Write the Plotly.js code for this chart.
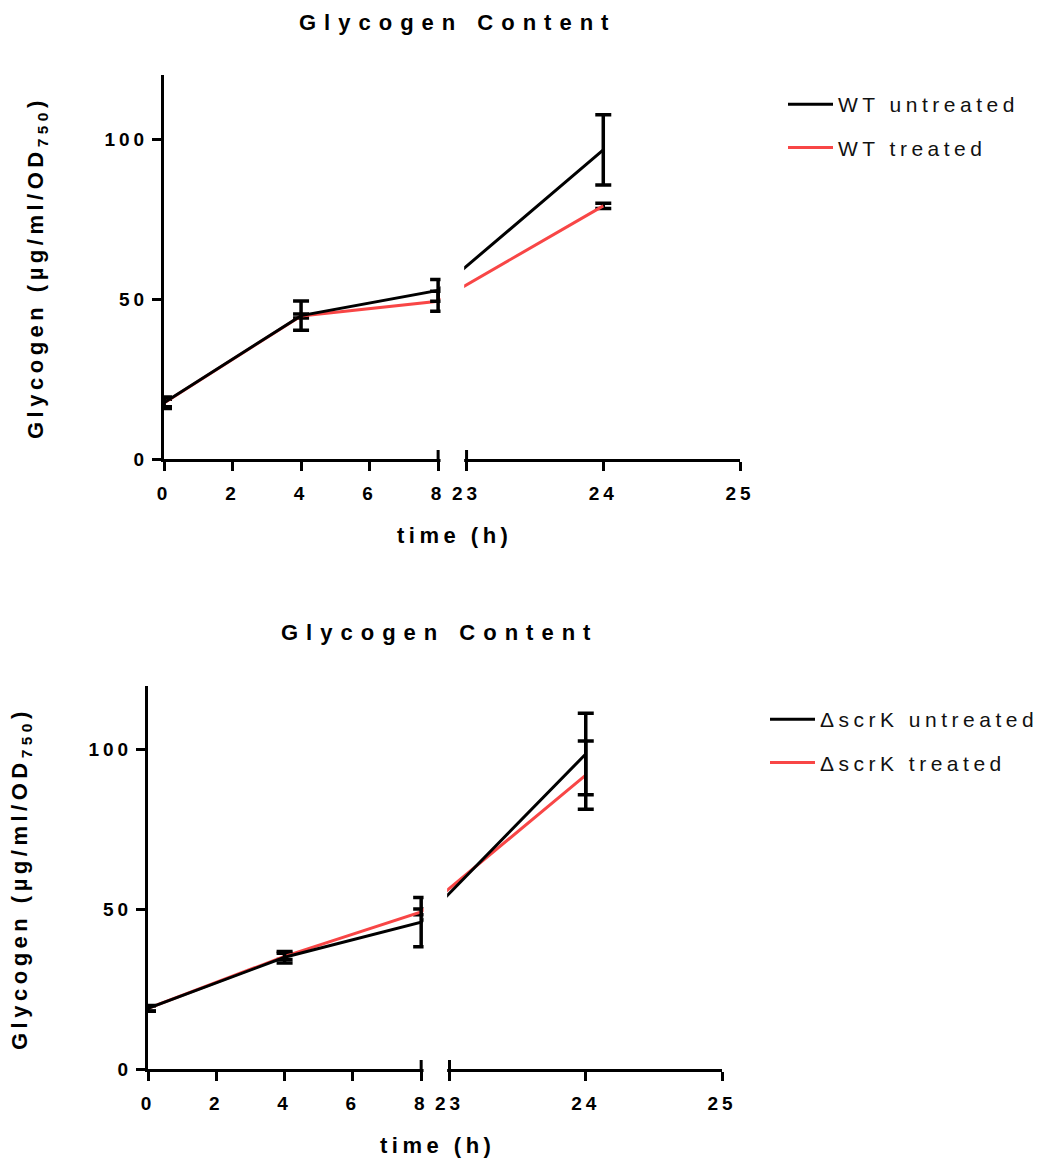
<!DOCTYPE html>
<html>
<head>
<meta charset="utf-8">
<script src="https://cdn.plot.ly/plotly-3.0.1.min.js"></script>
<style>
html, body { margin: 0; padding: 0; background: #ffffff; }
#chart { width: 1049px; height: 1159px; }
text { letter-spacing: 4.5px; }
.xtick text, .x2tick text, .ytick text, .y2tick text { letter-spacing: 4px; }
.annotation text { letter-spacing: 4.5px; }
.annotation[data-index="0"] text, .annotation[data-index="3"] text { letter-spacing: 8px; }
</style>
</head>
<body>
<div id="chart"></div>
<script>
// ---------------- data ----------------
const timeH = [0, 4, 8, 24];

const wtNames = ['WT untreated', 'WT treated'];
const wtUntreated    = [17.6, 44.8, 52.7, 96.6];
const wtUntreatedErr = [1.8, 4.6, 3.4, 11.0];
const wtTreated      = [17.5, 44.7, 49.3, 79.1];
const wtTreatedErr   = [1.2, 0.6, 3.1, 0.8];

const scrkNames = ['\u0394scrK untreated', '\u0394scrK treated'];
const scrkUntreated    = [19.0, 35.0, 46.0, 98.7];
const scrkUntreatedErr = [0.9, 1.8, 7.7, 12.8];
const scrkTreated      = [19.0, 35.3, 49.2, 92.1];
const scrkTreatedErr   = [0.8, 1.0, 0.9, 10.7];

const xTickVals = [0, 2, 4, 6, 8, 23, 24, 25];
const xTickText = ['0', '2', '4', '6', '8', '23', '24', '25'];
const yTickVals = [0, 50, 100];
const yTickText = ['0', '50', '100'];

const chartTitle = 'Glycogen Content';
const yTitle = 'Glycogen (\u00b5g/ml/OD<sub>750</sub>)';
const xTitle = 'time (h)';

// ---------------- broken x scale (0–8 | 23–25) ----------------
const SEG1_END = 8, SEG2_START = 23, SEG2_END = 25;
const GAP = 0.83;          // width of the break, in first-segment hours
const SEG2_STRETCH = 3.99; // second segment is drawn wider
function brokenX(t) {
  return t <= SEG1_END ? t : SEG1_END + GAP + (t - SEG2_START) * SEG2_STRETCH;
}
const xMax = brokenX(SEG2_END);

const BLACK = '#000000';
const RED = '#f84646';
const FONT = 'Arial, "Liberation Sans", sans-serif';

function series(y, err, name, color, xa, ya, legend, rank) {
  return {
    type: 'scatter', mode: 'lines',
    x: timeH.map(brokenX), y: y, name: name,
    xaxis: xa, yaxis: ya, legend: legend, legendgroup: legend + name, legendrank: rank,
    line: { color: color, width: 3 },
    error_y: { type: 'data', array: err, visible: true, color: BLACK, thickness: 3.5, width: 8 },
    cliponaxis: false, hoverinfo: 'skip'
  };
}

const traces = [
  series(wtTreated, wtTreatedErr, wtNames[1], RED, 'x', 'y', 'legend', 2),
  series(wtUntreated, wtUntreatedErr, wtNames[0], BLACK, 'x', 'y', 'legend', 1),
  series(scrkTreated, scrkTreatedErr, scrkNames[1], RED, 'x2', 'y2', 'legend2', 2),
  series(scrkUntreated, scrkUntreatedErr, scrkNames[0], BLACK, 'x2', 'y2', 'legend2', 1)
];

const W = 1049, H = 1159;
const px = v => v / W;
const py = v => 1 - v / H;

function tickFont() { return { family: FONT, size: 19, color: BLACK, weight: 'bold' }; }

function xAxis(dom, anchor) {
  return {
    domain: dom, anchor: anchor, range: [0, xMax],
    tickmode: 'array', tickvals: xTickVals.map(brokenX), ticktext: xTickText,
    ticks: 'outside', ticklen: 9, tickwidth: 3, tickcolor: BLACK,
    showline: true, linewidth: 3, linecolor: BLACK,
    showgrid: false, zeroline: false, tickfont: tickFont(), ticklabelstandoff: 6,
    fixedrange: true
  };
}
function yAxis(dom, anchor) {
  return {
    domain: dom, anchor: anchor, range: [0, 120],
    tickmode: 'array', tickvals: yTickVals, ticktext: yTickText,
    ticks: 'outside', ticklen: 9, tickwidth: 3, tickcolor: BLACK,
    showline: true, linewidth: 3, linecolor: BLACK,
    showgrid: false, zeroline: false, tickfont: tickFont(), ticklabelstandoff: 0,
    fixedrange: true
  };
}

const xDom1 = [px(164), px(740)], yDom1 = [py(459), py(75)];
const xDom2 = [px(148), px(722)], yDom2 = [py(1069), py(686)];

function breakShapes(xref, yref, yDom) {
  return [
    { type: 'rect', xref: xref, yref: 'paper', layer: 'above',
      x0: SEG1_END + 0.07, x1: brokenX(SEG2_START) - 0.07,
      y0: yDom[0] - 0.012, y1: yDom[1] + 0.01,
      fillcolor: '#ffffff', line: { width: 0 } },
    { type: 'line', xref: xref, yref: yref, layer: 'above',
      x0: SEG1_END, x1: SEG1_END, ysizemode: 'pixel', yanchor: 0, y0: 0, y1: 9,
      line: { color: BLACK, width: 3 } },
    { type: 'line', xref: xref, yref: yref, layer: 'above',
      x0: brokenX(SEG2_START), x1: brokenX(SEG2_START), ysizemode: 'pixel', yanchor: 0, y0: 0, y1: 9,
      line: { color: BLACK, width: 3 } }
  ];
}

function titleFont() { return { family: FONT, size: 22, color: BLACK, weight: 'bold' }; }

function ann(text, x, y, angle) {
  return { text: text, x: x, y: y, xref: 'paper', yref: 'paper', showarrow: false,
           xanchor: 'center', yanchor: 'middle', textangle: angle || 0, font: titleFont() };
}

const annotations = [
  ann(chartTitle, px(457), py(22), 0),
  ann(yTitle, px(37), py(268), -90),
  ann(xTitle, px(454), py(535), 0),
  ann(chartTitle, px(439), py(632), 0),
  ann(yTitle, px(21), py(879), -90),
  ann(xTitle, px(437), py(1145), 0)
];

function legendFont() { return { family: FONT, size: 21, color: '#111111' }; }

const layout = {
  width: W, height: H,
  margin: { l: 0, r: 0, t: 0, b: 0, pad: 0 },
  paper_bgcolor: '#ffffff', plot_bgcolor: '#ffffff',
  showlegend: true,
  xaxis: xAxis(xDom1, 'y'), yaxis: yAxis(yDom1, 'x'),
  xaxis2: xAxis(xDom2, 'y2'), yaxis2: yAxis(yDom2, 'x2'),
  legend: { x: px(783), y: py(84), xanchor: 'left', yanchor: 'top', font: legendFont(),
            itemwidth: 45, traceorder: 'grouped', tracegroupgap: 13,
            bgcolor: 'rgba(0,0,0,0)', borderwidth: 0 },
  legend2: { x: px(765), y: py(699), xanchor: 'left', yanchor: 'top', font: legendFont(),
             itemwidth: 45, traceorder: 'grouped', tracegroupgap: 13,
             bgcolor: 'rgba(0,0,0,0)', borderwidth: 0 },
  shapes: breakShapes('x', 'y', yDom1).concat(breakShapes('x2', 'y2', yDom2)),
  annotations: annotations
};

Plotly.newPlot('chart', traces, layout, { displayModeBar: false, staticPlot: true });
</script>
</body>
</html>
